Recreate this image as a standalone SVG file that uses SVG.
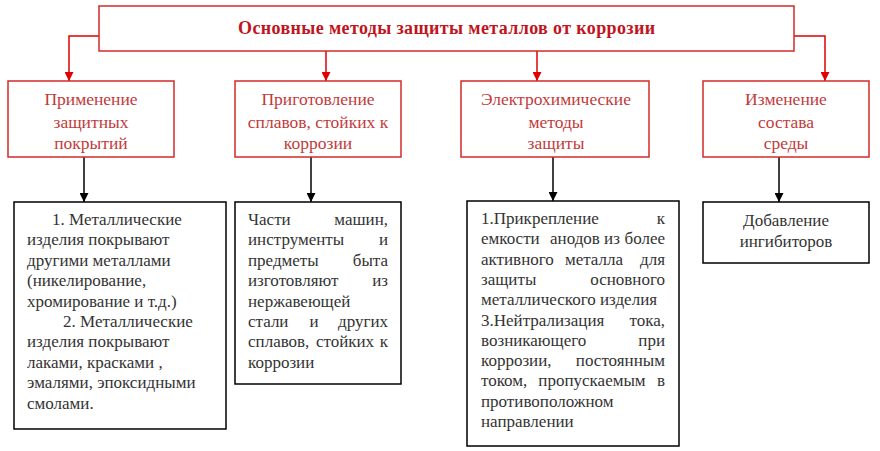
<svg xmlns="http://www.w3.org/2000/svg" width="880" height="451" viewBox="0 0 880 451">
<defs>
<marker id="ar" viewBox="0 0 10 10" refX="10" refY="5" markerWidth="9" markerHeight="9" markerUnits="userSpaceOnUse" orient="auto"><path d="M0,0 L10,5 L0,10 z" fill="#e00000"/></marker>
<marker id="ab" viewBox="0 0 10 10" refX="10" refY="5" markerWidth="9" markerHeight="9" markerUnits="userSpaceOnUse" orient="auto"><path d="M0,0 L10,5 L0,10 z" fill="#000"/></marker>
</defs>
<style>
.rb{fill:#fff;stroke:#d42a2a;stroke-width:1.5}
.bb{fill:#fff;stroke:#000;stroke-width:1.5}
.title{font-family:"Liberation Serif","DejaVu Serif",serif;font-size:18px;font-weight:bold;fill:#c0141e;text-anchor:middle}
.rt{font-family:"Liberation Serif","DejaVu Serif",serif;font-size:17.5px;fill:#c23b3b;text-anchor:middle}
.bt{font-family:"Liberation Serif","DejaVu Serif",serif;font-size:17px;fill:#333}
.e{text-anchor:end}
.m{text-anchor:middle}
.rc{fill:none;stroke:#e00000;stroke-width:1.5}
.bc{fill:none;stroke:#000;stroke-width:1.5}
</style>
<rect width="880" height="451" fill="#fff"/>
<g id="connectors">
<path class="rc" d="M99,36 H69 V81" marker-end="url(#ar)"/>
<path class="rc" d="M326,51 V81" marker-end="url(#ar)"/>
<path class="rc" d="M537,51 V81" marker-end="url(#ar)"/>
<path class="rc" d="M794,36 H825 V81" marker-end="url(#ar)"/>
<path class="bc" d="M84,157 V202" marker-end="url(#ab)"/>
<path class="bc" d="M311,157 V202" marker-end="url(#ab)"/>
<path class="bc" d="M553,157 V201" marker-end="url(#ab)"/>
<path class="bc" d="M779,157 V202" marker-end="url(#ab)"/>
</g>
<g id="root">
<rect class="rb" x="99" y="6" width="695" height="45"/>
<text class="title" x="446.5" y="34" textLength="417" lengthAdjust="spacing">Основные методы защиты металлов от коррозии</text>
</g>
<g id="n1">
<rect class="rb" x="8" y="81" width="166" height="76"/>
<text class="rt" x="91" y="105">Применение</text>
<text class="rt" x="91" y="127.5">защитных</text>
<text class="rt" x="91" y="149">покрытий</text>
</g>
<g id="n2">
<rect class="rb" x="235" y="81" width="166" height="76"/>
<text class="rt" x="318" y="105">Приготовление</text>
<text class="rt" x="318" y="127.5">сплавов, стойких к</text>
<text class="rt" x="318" y="149">коррозии</text>
</g>
<g id="n3">
<rect class="rb" x="461" y="81" width="188" height="76"/>
<text class="rt" x="556" y="105">Электрохимические</text>
<text class="rt" x="556" y="127.5">методы</text>
<text class="rt" x="556" y="149">защиты</text>
</g>
<g id="n4">
<rect class="rb" x="703" y="81" width="166" height="76"/>
<text class="rt" x="786" y="105">Изменение</text>
<text class="rt" x="786" y="127.5">состава</text>
<text class="rt" x="786" y="149">среды</text>
</g>
<g id="d1">
<rect class="bb" x="14" y="202" width="212" height="227"/>
<text class="bt" x="52" y="225">1. Металлические</text>
<text class="bt" x="27" y="245.4">изделия покрывают</text>
<text class="bt" x="27" y="265.8">другими металлами</text>
<text class="bt" x="27" y="286.2">(никелирование,</text>
<text class="bt" x="27" y="306.6">хромирование и т.д.)</text>
<text class="bt" x="63" y="327">2. Металлические</text>
<text class="bt" x="27" y="347.4">изделия покрывают</text>
<text class="bt" x="27" y="367.8">лаками, красками ,</text>
<text class="bt" x="27" y="388.2">эмалями, эпоксидными</text>
<text class="bt" x="27" y="408.6">смолами.</text>
</g>
<g id="d2">
<rect class="bb" x="235" y="202" width="166" height="182"/>
<text class="bt" y="225"><tspan x="248">Части</tspan><tspan class="e" x="388">машин,</tspan></text>
<text class="bt" y="245.4"><tspan x="248">инструменты</tspan><tspan class="e" x="388">и</tspan></text>
<text class="bt" y="265.8"><tspan x="248">предметы</tspan><tspan class="e" x="388">быта</tspan></text>
<text class="bt" y="286.2"><tspan x="248">изготовляют</tspan><tspan class="e" x="388">из</tspan></text>
<text class="bt" x="248" y="306.6">нержавеющей</text>
<text class="bt" y="327"><tspan x="248">стали</tspan><tspan class="m" x="314">и</tspan><tspan class="e" x="388">других</tspan></text>
<text class="bt" y="347.4"><tspan x="248">сплавов,</tspan><tspan class="m" x="345">стойких</tspan><tspan class="e" x="388">к</tspan></text>
<text class="bt" x="248" y="367.8">коррозии</text>
</g>
<g id="d3">
<rect class="bb" x="467" y="201" width="212" height="245"/>
<text class="bt" y="224"><tspan x="481">1.Прикрепление</tspan><tspan class="e" x="665">к</tspan></text>
<text class="bt" y="244.3"><tspan x="481">емкости</tspan><tspan x="550">анодов</tspan><tspan class="m" x="612">из</tspan><tspan class="e" x="665">более</tspan></text>
<text class="bt" y="264.6"><tspan x="481">активного</tspan><tspan class="m" x="594">металла</tspan><tspan class="e" x="665">для</tspan></text>
<text class="bt" y="284.9"><tspan x="481">защиты</tspan><tspan class="e" x="665">основного</tspan></text>
<text class="bt" x="481" y="305.2">металлического изделия</text>
<text class="bt" y="325.5"><tspan x="481">3.Нейтрализация</tspan><tspan class="e" x="665">тока,</tspan></text>
<text class="bt" y="345.8"><tspan x="481">возникающего</tspan><tspan class="e" x="665">при</tspan></text>
<text class="bt" y="366.1"><tspan x="481">коррозии,</tspan><tspan class="e" x="665">постоянным</tspan></text>
<text class="bt" y="386.4"><tspan x="481">током,</tspan><tspan class="m" x="592">пропускаемым</tspan><tspan class="e" x="665">в</tspan></text>
<text class="bt" x="481" y="406.7">противоположном</text>
<text class="bt" x="481" y="427">направлении</text>
</g>
<g id="d4">
<rect class="bb" x="703" y="202" width="166" height="61"/>
<text class="bt m" x="786" y="226">Добавление</text>
<text class="bt m" x="786" y="247">ингибиторов</text>
</g>
</svg>
